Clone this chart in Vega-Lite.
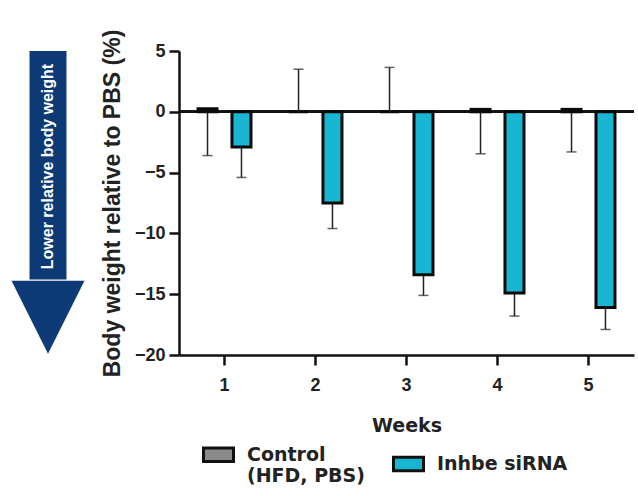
{
  "$schema": "https://vega.github.io/schema/vega-lite/v6.json",
  "background": "white",
  "padding": {"left": 5, "top": 29, "right": 0, "bottom": 0},
  "config": {"view": {"stroke": null}, "concat": {"spacing": 0}},
  "datasets": {
    "bw": [
      {"week": "1", "group": "Control", "mean": 0.25, "err": -3.6},
      {"week": "1", "group": "Inhbe siRNA", "mean": -2.9, "err": -5.4},
      {"week": "2", "group": "Control", "mean": 0, "err": 3.5},
      {"week": "2", "group": "Inhbe siRNA", "mean": -7.5, "err": -9.6},
      {"week": "3", "group": "Control", "mean": 0, "err": 3.65},
      {"week": "3", "group": "Inhbe siRNA", "mean": -13.4, "err": -15.1},
      {"week": "4", "group": "Control", "mean": 0.2, "err": -3.45},
      {"week": "4", "group": "Inhbe siRNA", "mean": -14.9, "err": -16.8},
      {"week": "5", "group": "Control", "mean": 0.2, "err": -3.3},
      {"week": "5", "group": "Inhbe siRNA", "mean": -16.1, "err": -17.9}
    ]
  },
  "hconcat": [
    {
      "width": 96,
      "height": 304,
      "data": {"values": [{"label": "Lower relative body weight"}]},
      "layer": [
        {
          "mark": {"type": "rule", "color": "#0d3a75", "strokeWidth": 37},
          "encoding": {
            "x": {"datum": 0.448, "type": "quantitative", "scale": {"domain": [0, 1]}, "axis": null},
            "y": {"datum": 5, "type": "quantitative", "scale": {"domain": [-20, 5], "nice": false}, "axis": null},
            "y2": {"datum": -13.8}
          }
        },
        {
          "mark": {"type": "point", "shape": "M-1,-1L1,-1L0,1Z", "size": 5329, "filled": true, "color": "#0d3a75", "opacity": 1},
          "encoding": {
            "x": {"datum": 0.448, "type": "quantitative"},
            "y": {"datum": -16.9, "type": "quantitative"}
          }
        },
        {
          "mark": {"type": "text", "angle": 270, "color": "white", "font": "Liberation Sans", "fontWeight": "bold", "fontSize": 16, "align": "center", "baseline": "middle"},
          "encoding": {
            "x": {"datum": 0.448, "type": "quantitative"},
            "y": {"datum": -4.5, "type": "quantitative"},
            "text": {"field": "label"}
          }
        }
      ]
    },
    {
      "width": 455,
      "height": 304,
      "data": {"name": "bw"},
      "encoding": {
        "x": {
          "field": "week", "type": "nominal", "sort": ["1", "2", "3", "4", "5"],
          "scale": {"paddingInner": 0, "paddingOuter": 0},
          "axis": {
            "title": "Weeks", "labelAngle": 0,
            "labelFont": "Liberation Sans", "labelFontWeight": "bold", "labelFontSize": 18, "labelColor": "#222",
            "titleFont": "DejaVu Sans", "titleFontWeight": "bold", "titleFontSize": 19, "titleColor": "#222",
            "domainColor": "#111", "domainWidth": 2.5, "tickColor": "#111", "tickWidth": 2.5, "tickSize": 10,
            "labelPadding": 11, "titlePadding": 22
          }
        },
        "xOffset": {
          "field": "group", "type": "nominal", "sort": ["Control", "Inhbe siRNA"],
          "scale": {"paddingInner": 0.38, "paddingOuter": 0.53}
        }
      },
      "layer": [
        {
          "mark": {"type": "rule", "color": "#111", "strokeWidth": 2},
          "encoding": {
            "x": null, "xOffset": null,
            "y": {"datum": 0, "type": "quantitative"}
          }
        },
        {
          "mark": {"type": "rule", "color": "#222", "strokeWidth": 1.5},
          "encoding": {
            "y": {"field": "mean", "type": "quantitative"},
            "y2": {"field": "err"}
          }
        },
        {
          "mark": {"type": "tick", "color": "#222", "thickness": 1.5, "size": 10, "orient": "horizontal"},
          "encoding": {
            "y": {"field": "err", "type": "quantitative"}
          }
        },
        {
          "mark": {"type": "bar", "stroke": "#0a0a0a", "strokeWidth": 3, "width": 19},
          "encoding": {
            "y": {
              "field": "mean", "type": "quantitative",
              "scale": {"domain": [-20, 5], "nice": false},
              "axis": {
                "title": "Body weight relative to PBS (%)",
                "values": [-20, -15, -10, -5, 0, 5], "grid": false,
                "labelFont": "Liberation Sans", "labelFontWeight": "bold", "labelFontSize": 18, "labelColor": "#222",
                "titleFont": "Liberation Sans", "titleFontWeight": "bold", "titleFontSize": 23, "titleColor": "#222",
                "domainColor": "#111", "domainWidth": 2.5, "tickColor": "#111", "tickWidth": 2.5, "tickSize": 10,
                "labelPadding": 4, "titlePadding": 10
              }
            },
            "color": {
              "field": "group", "type": "nominal",
              "scale": {"domain": ["Control", "Inhbe siRNA"], "range": ["#8a8a8a", "#18b6d2"]},
              "legend": {
                "title": null, "orient": "none", "direction": "horizontal",
                "legendX": 197, "legendY": 387,
                "symbolType": "M-1,-0.45L1,-0.45L1,0.45L-1,0.45Z", "symbolSize": 900,
                "symbolStrokeColor": "#111", "symbolStrokeWidth": 3, "symbolOpacity": 1,
                "labelFont": "DejaVu Sans", "labelFontWeight": "bold", "labelFontSize": 19, "labelColor": "#222",
                "labelExpr": "datum.label == 'Control' ? ['Control', '(HFD, PBS)'] : datum.label",
                "labelOffset": 12, "columnPadding": 22, "labelLimit": 300
              }
            }
          }
        }
      ]
    }
  ]
}
